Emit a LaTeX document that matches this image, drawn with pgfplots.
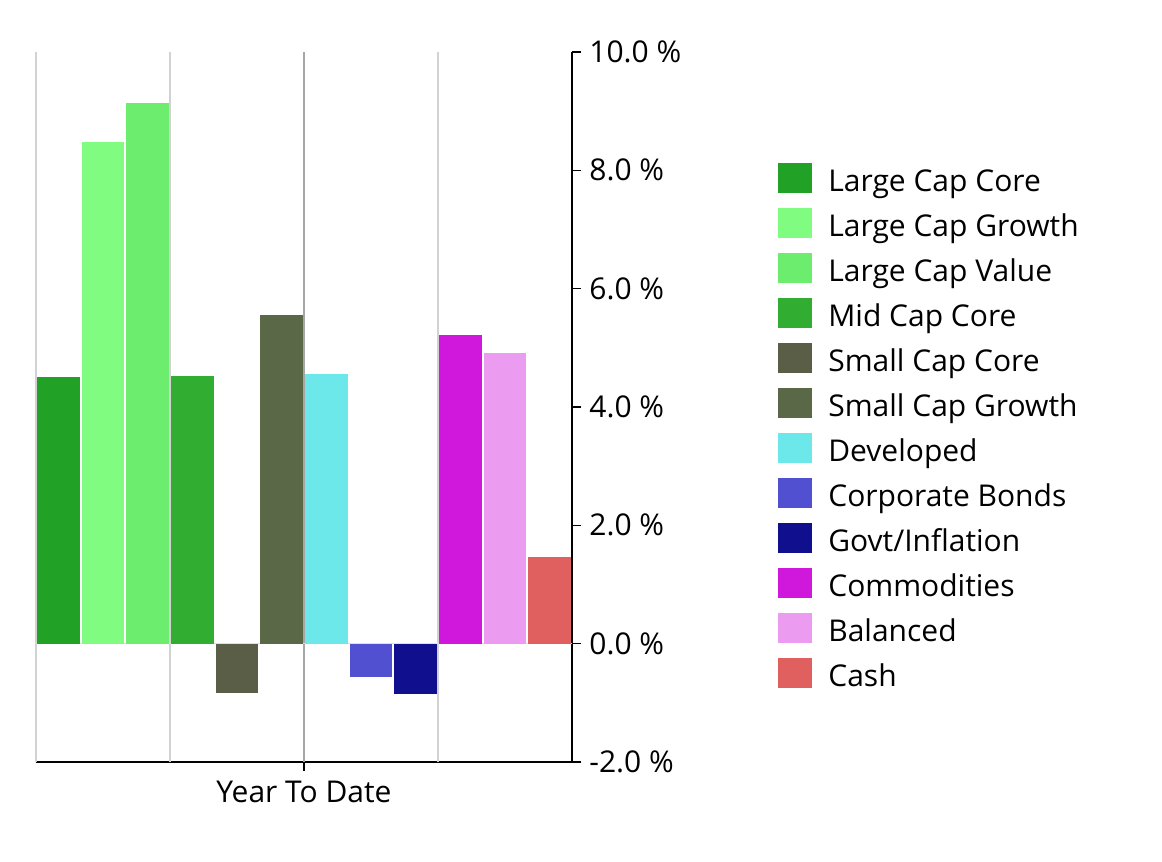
\documentclass[border=0pt]{standalone}
\usepackage{fontspec}
\setmainfont{Open Sans}
\usepackage{pgfplots}
\pgfplotsset{compat=1.18}

\definecolor{lcc}{RGB}{33,161,38}
\definecolor{lcg}{RGB}{128,252,128}
\definecolor{lcv}{RGB}{109,237,109}
\definecolor{mcc}{RGB}{49,173,49}
\definecolor{scc}{RGB}{90,94,70}
\definecolor{scg}{RGB}{90,104,72}
\definecolor{dev}{RGB}{108,232,234}
\definecolor{cbd}{RGB}{80,80,208}
\definecolor{gov}{RGB}{16,16,142}
\definecolor{com}{RGB}{208,24,220}
\definecolor{bal}{RGB}{236,156,240}
\definecolor{cash}{RGB}{224,96,96}

\begin{document}
\fontsize{15pt}{18pt}\selectfont
\begin{tikzpicture}
\path[use as bounding box] (-18pt,-50pt) rectangle (563pt,381pt);
\begin{axis}[
  at={(0,0)}, anchor=south west,
  scale only axis,
  width=268pt, height=355pt,
  xmin=-0.5, xmax=11.5,
  ymin=-2, ymax=10,
  axis x line=bottom, axis y line=right,
  axis line style={black, thick, -},
  ybar, bar width=0.95, bar shift=0pt,
  xtick={5.5}, xticklabels={Year To Date},
  x tick style={black, thick}, xtick align=outside,
  ytick={-2,0,2,4,6,8,10},
  yticklabels={-2.0 \%,0.0 \%,2.0 \%,4.0 \%,6.0 \%,8.0 \%,10.0 \%},
  ytick align=outside, major tick length=4.5pt,
  y tick style={black, thick},
  tick label style={font=\fontsize{15pt}{18pt}\selectfont},
  yticklabel style={xshift=-1pt},
  legend style={draw=none, at={(1.373,0.850)}, anchor=north west,
    font=\fontsize{15pt}{18pt}\selectfont, row sep=5pt,
    nodes={inner sep=0pt, text height=11pt, text depth=3pt}},
  legend cell align=left,
  legend image code/.code={\fill[#1] (0pt,-4.5pt) rectangle (17pt,10.5pt);},
  /tikz/every odd column/.append style={column sep=8pt},
  every axis plot/.append style={draw=none},
  clip=false,
]
% vertical separators and zero line
\draw[gray!35, thick] (axis cs:-0.5,-2) -- (axis cs:-0.5,10);
\draw[gray!35, thick] (axis cs:2.5,-2) -- (axis cs:2.5,10);
\draw[gray!35, thick] (axis cs:8.5,-2) -- (axis cs:8.5,10);
\draw[gray!70, thick] (axis cs:5.5,-2) -- (axis cs:5.5,10);
\draw[gray!25, thick] (axis cs:-0.5,0) -- (axis cs:11.5,0);
\addplot[fill=lcc] coordinates {(0,4.50)};
\addlegendentry{Large Cap Core}
\addplot[fill=lcg] coordinates {(1,8.48)};
\addlegendentry{Large Cap Growth}
\addplot[fill=lcv] coordinates {(2,9.14)};
\addlegendentry{Large Cap Value}
\addplot[fill=mcc] coordinates {(3,4.53)};
\addlegendentry{Mid Cap Core}
\addplot[fill=scc] coordinates {(4,-0.83)};
\addlegendentry{Small Cap Core}
\addplot[fill=scg] coordinates {(5,5.56)};
\addlegendentry{Small Cap Growth}
\addplot[fill=dev] coordinates {(6,4.56)};
\addlegendentry{Developed}
\addplot[fill=cbd] coordinates {(7,-0.56)};
\addlegendentry{Corporate Bonds}
\addplot[fill=gov] coordinates {(8,-0.85)};
\addlegendentry{Govt/Inflation}
\addplot[fill=com] coordinates {(9,5.21)};
\addlegendentry{Commodities}
\addplot[fill=bal] coordinates {(10,4.92)};
\addlegendentry{Balanced}
\addplot[fill=cash] coordinates {(11,1.47)};
\addlegendentry{Cash}
\end{axis}
\end{tikzpicture}
\end{document}
